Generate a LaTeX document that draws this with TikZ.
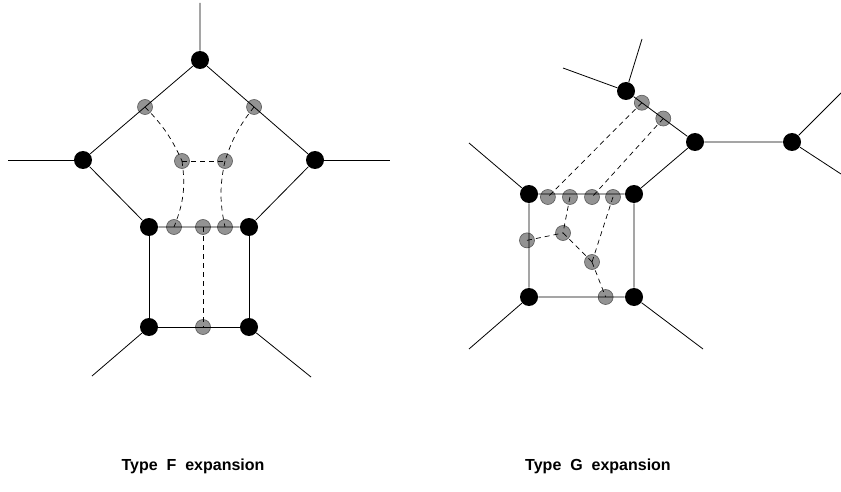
\documentclass[tikz,border=0pt]{standalone}
\usepackage{fontspec}
\setmainfont{Liberation Sans}
\usetikzlibrary{calc}
\begin{document}
\begin{tikzpicture}[x = 1pt, y = -1pt, line width = 0.8pt,
        vertex/.style = {circle, fill = black, inner sep = 0pt, minimum size = 18pt},
        ghost/.style = {circle, draw = black!65, line width = 0.6pt, fill = black!50, fill opacity = 0.85, inner sep = 0pt, minimum size = 15pt},
        flap/.style = {dashed, line width = 0.7pt, dash pattern = on 5pt off 4pt},
        caption/.style = {font = \fontsize{16pt}{19pt}\selectfont\bfseries}]
    \useasboundingbox (0,0) rectangle (841,492);
    % Type F
    \node [vertex] (ft) at (200,60) {};
    \node [vertex] (fl) at (83,160) {};
    \node [vertex] (fr) at (315,160) {};
    \node [vertex] (fa) at (149,227) {};
    \node [vertex] (fb) at (249,227) {};
    \node [vertex] (fc) at (149,327) {};
    \node [vertex] (fd) at (249,327) {};
    \coordinate (ft0) at (200,3);
    \coordinate (fl0) at (8,160);
    \coordinate (fr0) at (390,160);
    \coordinate (fc0) at (92,376);
    \coordinate (fd0) at (311,377);
    \node [ghost] (f1) at ($(ft)!0.47!(fl)$) {};
    \node [ghost] (f2) at ($(ft)!0.47!(fr)$) {};
    \node [ghost] (f3) at (182,161) {};
    \node [ghost] (f4) at (225,161) {};
    \node [ghost] (f5) at ($(fa)!0.25!(fb)$) {};
    \node [ghost] (f6) at ($(fa)!0.54!(fb)$) {};
    \node [ghost] (f7) at ($(fa)!0.76!(fb)$) {};
    \node [ghost] (f8) at ($(fc)!0.54!(fd)$) {};
    \draw (ft0) -- (ft) -- (fl) -- (fa) -- (fb) -- (fr) -- (ft);
    \draw (fl) -- (fl0);
    \draw (fr) -- (fr0);
    \draw (fa) -- (fc) -- (fd) -- (fb);
    \draw (fc) -- (fc0);
    \draw (fd) -- (fd0);
    \draw [flap] (f1.center) to [bend left = 10] (f3.center);
    \draw [flap] (f2.center) to [bend right = 10] (f4.center);
    \draw [flap] (f3.center) -- (f4.center);
    \draw [flap] (f3.center) to [bend left = 15] (f5.center);
    \draw [flap] (f4.center) to [bend right = 12] (f7.center);
    \draw [flap] (f6.center) -- (f8.center);
    % Type G
    \node [vertex] (gp) at (626,91) {};
    \node [vertex] (gq) at (695,142) {};
    \node [vertex] (gs) at (792,142) {};
    \node [vertex] (ga) at (529,194) {};
    \node [vertex] (gb) at (634,194) {};
    \node [vertex] (gc) at (529,297) {};
    \node [vertex] (gd) at (634,297) {};
    \coordinate (gp1) at (563,68);
    \coordinate (gp2) at (642,39);
    \coordinate (gs1) at (841,93);
    \coordinate (gs2) at (841,174);
    \coordinate (ga0) at (469,143);
    \coordinate (gc0) at (469,349);
    \coordinate (gd0) at (703,349);
    \node [ghost] (g1) at ($(gp)!0.23!(gq)$) {};
    \node [ghost] (g2) at ($(gp)!0.54!(gq)$) {};
    \node [ghost] (g3) at ($(ga)!0.18!(gb) + (0,3)$) {};
    \node [ghost] (g4) at ($(ga)!0.39!(gb) + (0,3)$) {};
    \node [ghost] (g5) at ($(ga)!0.60!(gb) + (0,3)$) {};
    \node [ghost] (g6) at ($(ga)!0.80!(gb) + (0,3)$) {};
    \node [ghost] (g7) at ($(ga)!0.45!(gc) + (-2,0)$) {};
    \node [ghost] (g8) at (563,233) {};
    \node [ghost] (g9) at (592,262) {};
    \node [ghost] (g10) at ($(gc)!0.73!(gd)$) {};
    \draw (gp1) -- (gp) -- (gp2);
    \draw (gp) -- (gq) -- (gs);
    \draw (gs1) -- (gs) -- (gs2);
    \draw (gq) -- (gb) -- (ga) -- (gc) -- (gd) -- (gb);
    \draw (ga) -- (ga0);
    \draw (gc) -- (gc0);
    \draw (gd) -- (gd0);
    \draw [flap] (g1.center) -- (g3.center);
    \draw [flap] (g2.center) -- (g5.center);
    \draw [flap] (g4.center) -- (g8.center);
    \draw [flap] (g7.center) -- (g8.center);
    \draw [flap] (g8.center) -- (g9.center);
    \draw [flap] (g6.center) -- (g9.center);
    \draw [flap] (g9.center) -- (g10.center);
    % captions
    \node [caption] (flabel) at (193,466) {Type\ \ F\ \ expansion};
    \node [caption] (glabel) at (598,466) {Type\ \ G\ \ expansion};
\end{tikzpicture}
\end{document}
